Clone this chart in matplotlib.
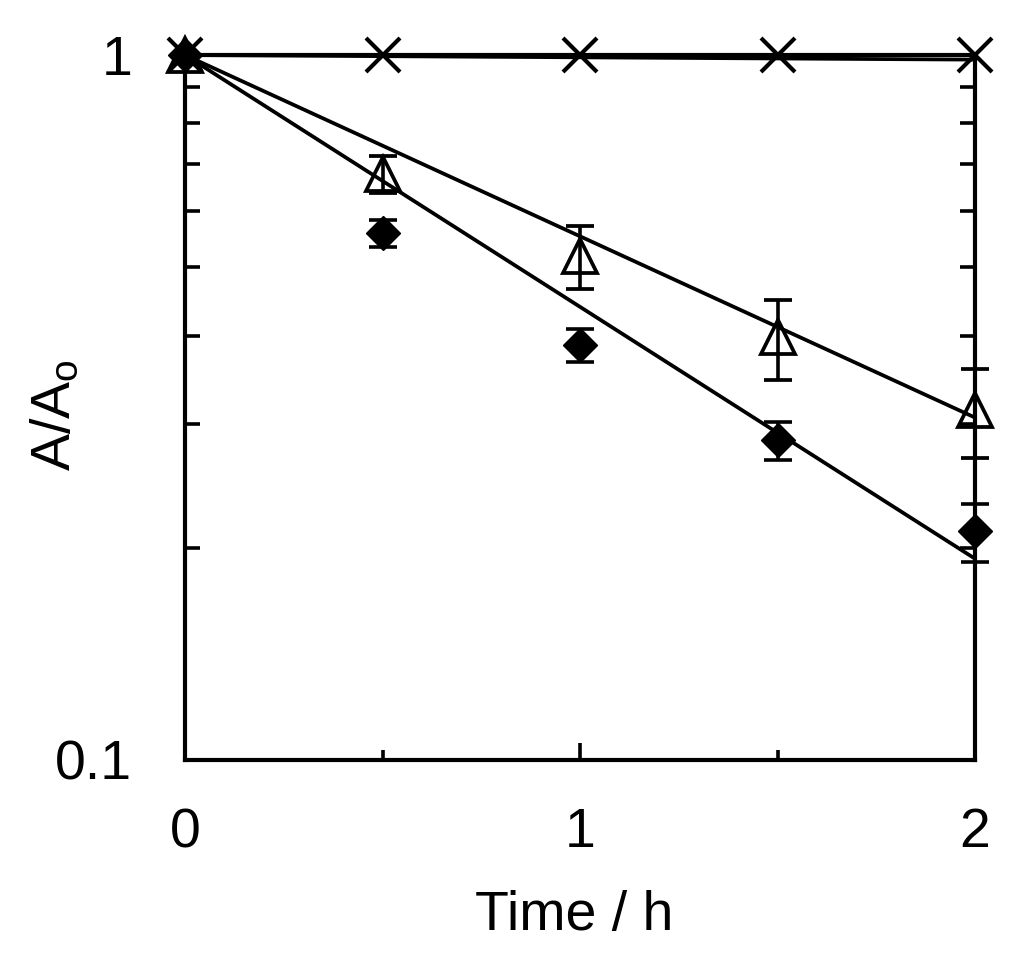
import matplotlib
matplotlib.use('Agg')
import matplotlib.pyplot as plt
from matplotlib.ticker import FixedLocator, FixedFormatter, NullFormatter
import numpy as np

plt.rcParams['font.family'] = ['Liberation Sans', 'DejaVu Sans']
plt.rcParams['mathtext.default'] = 'regular'

# data
time_h = [0, 0.5, 1.0, 1.5, 2.0]
diamond = [1.0, 0.559, 0.388, 0.284, 0.211]
diamond_err = [0.0, 0.025, 0.021, 0.018, 0.020]
triangle = [1.0, 0.678, 0.519, 0.3975, 0.3135]
triangle_err = [0.0, 0.040, 0.054, 0.052, 0.045]
cross = [1.0, 1.0, 1.0, 1.0, 1.0]

# fitted lines (end points, straight on log axis)
fit_t = [0, 2]
fit_diamond = [1.0, 0.193]
fit_triangle = [1.0, 0.306]
fit_cross = [1.0, 0.985]

fig = plt.figure(figsize=(10.24, 9.61), dpi=100)
ax = fig.add_axes([185/1024, 1 - 760/961, 790/1024, 705/961])

lw = 2.7
ax.plot(fit_t, fit_diamond, color='black', lw=lw, zorder=2)
ax.plot(fit_t, fit_triangle, color='black', lw=lw, zorder=2)
ax.plot(fit_t, fit_cross, color='black', lw=lw, zorder=2)

ax.errorbar(time_h, diamond, yerr=diamond_err, fmt='D', ms=17, mfc='black', mec='black',
            ecolor='black', elinewidth=2.6, capsize=10, capthick=2.6, clip_on=False, zorder=3)
ax.errorbar(time_h, triangle, yerr=triangle_err, fmt='^', ms=24, mfc='none', mec='black', mew=2.7,
            ecolor='black', elinewidth=2.6, capsize=10, capthick=2.6, clip_on=False, zorder=3)
ax.plot(time_h, cross, 'x', ms=24, mec='black', mew=3.0, clip_on=False, zorder=4)

ax.set_yscale('log')
ax.set_xlim(0, 2)
ax.set_ylim(0.1, 1)

for s in ax.spines.values():
    s.set_linewidth(3.0)

ax.yaxis.set_major_locator(FixedLocator([0.1, 1]))
ax.yaxis.set_major_formatter(FixedFormatter(['0.1', '1']))
ax.yaxis.set_minor_locator(FixedLocator([0.2, 0.3, 0.4, 0.5, 0.6, 0.7, 0.8, 0.9]))
ax.yaxis.set_minor_formatter(NullFormatter())
ax.xaxis.set_major_locator(FixedLocator([0, 1, 2]))
ax.xaxis.set_major_formatter(FixedFormatter(['0', '1', '2']))
ax.xaxis.set_minor_locator(FixedLocator([0.5, 1.5]))

ax.tick_params(axis='y', which='both', direction='in', left=True, right=True,
               width=2.6, labelsize=40, pad=38)
ax.tick_params(axis='y', which='minor', length=11)
ax.tick_params(axis='y', which='major', length=11)
ax.tick_params(axis='x', which='both', direction='in', top=False, bottom=True,
               width=2.6, labelsize=40, pad=34)
ax.tick_params(axis='x', which='major', length=12)
ax.tick_params(axis='x', which='minor', length=7)

ax.set_xlabel('Time / h', fontsize=40)
ax.xaxis.set_label_coords(0.4925, -0.185)
ax.set_ylabel(r'A/A$_{o}$', fontsize=40)
ax.yaxis.set_label_coords(-0.13, 0.49)

fig.savefig('out.png', dpi=100)
